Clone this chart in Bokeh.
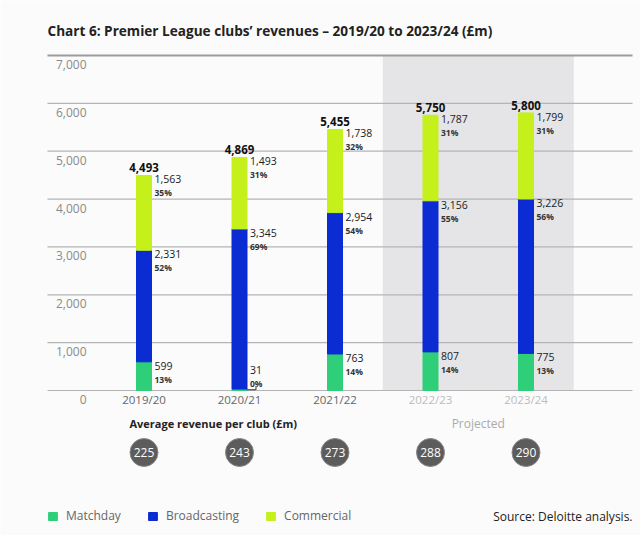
from bokeh.plotting import figure
from bokeh.models import ColumnDataSource, Range1d
from bokeh.core.properties import value
from bokeh.embed import file_html
from bokeh.resources import INLINE

# ---------------- data ----------------
years = ["2019/20", "2020/21", "2021/22", "2022/23", "2023/24"]
matchday = [599, 31, 763, 807, 775]
broadcasting = [2331, 3345, 2954, 3156, 3226]
commercial = [1563, 1493, 1738, 1787, 1799]
totals = [4493, 4869, 5455, 5750, 5800]
matchday_pct = [13, 0, 14, 14, 13]
broadcasting_pct = [52, 69, 54, 55, 56]
commercial_pct = [35, 31, 32, 31, 31]
avg_per_club = [225, 243, 273, 288, 290]
projected = [False, False, False, True, True]
y_ticks = [0, 1000, 2000, 3000, 4000, 5000, 6000, 7000]
series_names = ["Matchday", "Broadcasting", "Commercial"]
series_colors = ["#2ecf78", "#0b2bd3", "#c6f01c"]

# ---------------- layout (pixels) ----------------
W, H = 640, 535
PAGE = 0
BAR0_PX, STEP_PX = 143.5, 95.5
ZERO_PY, TOP_PY = 390, 55
YMAX = max(y_ticks)
PPU = (ZERO_PY - TOP_PY) / YMAX
BAR_W_PX = 15
FONT = value("Open Sans")
BG = "#fbfbfb"


def dx(px):
    return (px - BAR0_PX) / STEP_PX


def dy(py):
    return (ZERO_PY - py) / PPU


def fmt(v):
    return f"{v:,}"


p = figure(width=W, height=H,
           x_range=Range1d(dx(PAGE), dx(PAGE + W)),
           y_range=Range1d(dy(PAGE + H), dy(PAGE)),
           x_axis_type=None, y_axis_type=None,
           output_backend="svg", toolbar_location=None,
           min_border=0, outline_line_color=None,
           background_fill_color=BG, border_fill_color=BG)

xs = list(range(len(years)))

# projected shading
proj_idx = [i for i, f in enumerate(projected) if f]
p.quad(left=[proj_idx[0] - 0.5], right=[proj_idx[-1] + 0.5],
       bottom=[0], top=[YMAX], fill_color="#e5e5e7", line_color=None)

# gridlines
gl_x0 = dx(47)
gl_x1 = dx(632)
p.segment(x0=[gl_x0] * len(y_ticks[:-1]), x1=[gl_x1] * len(y_ticks[:-1]),
          y0=y_ticks[:-1], y1=y_ticks[:-1], line_color="#b4b4b4", line_width=1.2)
p.segment(x0=[gl_x0], x1=[gl_x1], y0=[y_ticks[-1]], y1=[y_ticks[-1]],
          line_color="#9c9c9c", line_width=2)

# y tick labels (below the lines)
p.text(x=[dx(86)] * len(y_ticks), y=y_ticks, text=[fmt(t) for t in y_ticks],
       text_font=FONT, text_font_size="12px", text_color="#8a8a8a",
       text_align="right", text_baseline="middle", y_offset=9)

# stacked bars
src = ColumnDataSource(dict(x=xs, Matchday=matchday, Broadcasting=broadcasting,
                            Commercial=commercial))
p.vbar_stack(series_names, x="x", width=BAR_W_PX / STEP_PX, color=series_colors,
             source=src, legend_label=series_names)

# totals above bars
p.text(x=xs, y=totals, text=[fmt(t) for t in totals], text_font=FONT,
       text_font_size="11.5px", text_font_style="bold", text_color="#111111",
       text_align="center", text_baseline="bottom", y_offset=-3)

# segment labels
lab_xoff = BAR_W_PX / 2 + 3
tops_b = [m + b for m, b in zip(matchday, broadcasting)]
min_label_val = dy(365)
tops_m = [max(m, min_label_val) for m in matchday]
for tops, vals, pcts in [(totals, commercial, commercial_pct),
                         (tops_b, broadcasting, broadcasting_pct),
                         (tops_m, matchday, matchday_pct)]:
    p.text(x=xs, y=tops, text=[fmt(v) for v in vals], text_font=FONT,
           text_font_size="10.5px", text_color="#222222", text_align="left",
           text_baseline="top", x_offset=lab_xoff, y_offset=0)
    p.text(x=xs, y=tops, text=[f"{v}%" for v in pcts], text_font=FONT,
           text_font_size="8.5px", text_font_style="bold", text_color="#333333",
           text_align="left", text_baseline="top", x_offset=lab_xoff, y_offset=12)

# leader for very small segments
for i, m in enumerate(matchday):
    if m * PPU < 4:
        xr = i + (BAR_W_PX / 2) / STEP_PX
        xe = i + (BAR_W_PX / 2 + 9) / STEP_PX
        p.line(x=[xr, xe, xe], y=[m / 2, m / 2, m / 2 + 4 / PPU],
               line_color="#333333", line_width=1)

# x labels
p.text(x=xs, y=[0] * len(xs), text=years, text_font=FONT, text_font_size="11.5px",
       text_color=["#bcbcbc" if f else "#666666" for f in projected],
       text_align="center", text_baseline="middle", y_offset=8.5)

# average revenue per club
p.text(x=[dx(129)], y=[dy(423)], text=["Average revenue per club (£m)"],
       text_font=FONT, text_font_size="11px", text_font_style="bold",
       text_color="#222222", text_align="left", text_baseline="middle")
p.text(x=[(proj_idx[0] + proj_idx[-1]) / 2], y=[dy(423)], text=["Projected"],
       text_font=FONT, text_font_size="12px", text_color="#aaaaaa",
       text_align="center", text_baseline="middle")
p.scatter(x=xs, y=[dy(452)] * len(xs), marker="circle", size=28,
          fill_color="#5c5c5c", line_color="#888888", line_width=1)
p.text(x=xs, y=[dy(452)] * len(xs), text=[str(v) for v in avg_per_club],
       text_font=FONT, text_font_size="12px", text_color="#ffffff",
       text_align="center", text_baseline="middle")

# title and source
p.text(x=[dx(47)], y=[dy(30)],
       text=["Chart 6: Premier League clubs\u2019 revenues \u2013 2019/20 to 2023/24 (£m)"],
       text_font=FONT, text_font_size="13.6px", text_font_style="bold",
       text_color="#222222", text_align="left", text_baseline="middle")
p.text(x=[dx(632)], y=[dy(516)], text=["Source: Deloitte analysis."],
       text_font=FONT, text_font_size="12px", text_color="#222222",
       text_align="right", text_baseline="middle")

# legend
lg = p.legend[0]
lg.orientation = "horizontal"
lg.location = (47, 11)
lg.glyph_width = 11
lg.glyph_height = 10
lg.label_standoff = 8
lg.spacing = 26
lg.padding = 0
lg.margin = 0
lg.label_height = 10
lg.border_line_color = None
lg.background_fill_alpha = 0
lg.label_text_font = "Open Sans"
lg.label_text_font_size = "12px"
lg.label_text_color = "#666666"

open("out.html", "w").write(file_html(p, INLINE))
